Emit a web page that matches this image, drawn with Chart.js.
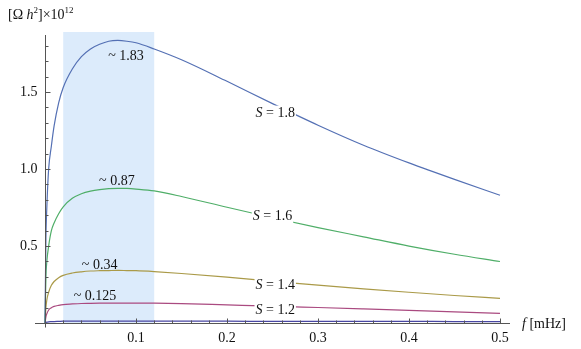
<!DOCTYPE html>
<html>
<head>
<meta charset="utf-8">
<script src="https://cdn.jsdelivr.net/npm/chart.js@4"></script>
<style>
  html, body { margin: 0; padding: 0; background: #ffffff; }
  #wrap { width: 581px; height: 349px; }
</style>
</head>
<body>
<div id="wrap"><canvas id="chart" width="581" height="349"></canvas></div>
<script>
  // frequency grid [mHz]
  var freq = [0, 0.001, 0.002, 0.004, 0.007, 0.01, 0.015, 0.02, 0.03, 0.04, 0.05, 0.06, 0.07,
              0.08, 0.09, 0.1, 0.12, 0.15, 0.2, 0.25, 0.3, 0.35, 0.4, 0.45, 0.5];

  // Omega h^2 x 10^12
  var s18 = [0, 0.55, 0.75, 1.0, 1.15, 1.28, 1.43, 1.53, 1.65, 1.73, 1.78, 1.81, 1.83,
             1.835, 1.83, 1.82, 1.78, 1.71, 1.57, 1.425, 1.285, 1.155, 1.04, 0.933, 0.83];
  var s16 = [0, 0.3, 0.4, 0.5, 0.6, 0.65, 0.71, 0.755, 0.81, 0.84, 0.857, 0.867, 0.873,
             0.875, 0.874, 0.87, 0.858, 0.822, 0.752, 0.684, 0.62, 0.56, 0.50, 0.447, 0.40];
  var s14 = [0, 0.1, 0.15, 0.2, 0.245, 0.27, 0.295, 0.31, 0.325, 0.333, 0.338, 0.34, 0.341,
             0.342, 0.341, 0.34, 0.334, 0.322, 0.298, 0.272, 0.246, 0.222, 0.2, 0.179, 0.16];
  var s12 = [0, 0.04, 0.06, 0.085, 0.1, 0.108, 0.115, 0.12, 0.124, 0.127, 0.128, 0.129, 0.13,
             0.13, 0.13, 0.13, 0.129, 0.126, 0.118, 0.11, 0.101, 0.092, 0.083, 0.073, 0.063];
  var s10 = [0, 0.004, 0.006, 0.008, 0.009, 0.01, 0.011, 0.012, 0.012, 0.012, 0.012, 0.012, 0.012,
             0.012, 0.012, 0.012, 0.012, 0.012, 0.012, 0.011, 0.011, 0.011, 0.011, 0.01, 0.01];

  var seriesNames = ['S = 1.8', 'S = 1.6', 'S = 1.4', 'S = 1.2', 'S = 1.0'];
  var seriesColors = ['#5470b4', '#4fae68', '#aa9a48', '#aa4a80', '#4846a2'];

  // labels: [text, f, value]
  var sLabels = [['1.8', 0.253, 1.36], ['1.6', 0.250, 0.69], ['1.4', 0.253, 0.247], ['1.2', 0.253, 0.084]];
  var peakLabels = [['~ 1.83', 0.089, 1.73], ['~ 0.87', 0.079, 0.92], ['~ 0.34', 0.060, 0.377], ['~ 0.125', 0.055, 0.175]];

  var band = [0.02, 0.12];

  var xMajor = [0.1, 0.2, 0.3, 0.4, 0.5];
  var xTickLabels = ['0.1', '0.2', '0.3', '0.4', '0.5'];
  var yMajor = [0.5, 1.0, 1.5];
  var yTickLabels = ['0.5', '1.0', '1.5'];

  var serif = "'Liberation Serif', 'DejaVu Serif', serif";

  function pts(ys) {
    return freq.map(function (f, i) { return { x: f, y: ys[i] }; });
  }

  var mathPlot = {
    id: 'mathPlot',
    beforeDatasetsDraw: function (chart) {
      var ctx = chart.ctx, xs = chart.scales.x, ys = chart.scales.y, a = chart.chartArea;
      ctx.save();
      ctx.fillStyle = '#dcebfb';
      var x0 = xs.getPixelForValue(band[0]), x1 = xs.getPixelForValue(band[1]);
      ctx.fillRect(x0, a.top, x1 - x0, ys.getPixelForValue(0) - a.top);
      ctx.restore();
    },
    afterDatasetsDraw: function (chart) {
      var ctx = chart.ctx, xs = chart.scales.x, ys = chart.scales.y, a = chart.chartArea;
      var ox = Math.round(xs.getPixelForValue(0)) + 0.5;
      var oy = Math.round(ys.getPixelForValue(0)) + 0.5;
      ctx.save();

      /* ── axes ── */
      ctx.strokeStyle = '#555555';
      ctx.lineWidth = 1;
      ctx.beginPath();
      ctx.moveTo(a.left, oy); ctx.lineTo(a.right, oy);
      ctx.moveTo(ox, a.top + 3); ctx.lineTo(ox, oy + 4);
      ctx.stroke();

      /* ── ticks ── */
      ctx.beginPath();
      for (var i = 1; i <= 25; i++) {
        var px = Math.round(xs.getPixelForValue(i * 0.02)) + 0.5;
        var len = (i % 5 === 0) ? 5 : 3;
        ctx.moveTo(px, oy); ctx.lineTo(px, oy - len);
      }
      for (var j = 1; j <= 18; j++) {
        var py = Math.round(ys.getPixelForValue(j * 0.1)) + 0.5;
        var l2 = (j % 5 === 0) ? 5 : 3;
        ctx.moveTo(ox, py); ctx.lineTo(ox + l2, py);
      }
      ctx.stroke();

      /* ── tick labels ── */
      ctx.fillStyle = '#111111';
      ctx.font = '14px ' + serif;
      ctx.textAlign = 'center';
      ctx.textBaseline = 'middle';
      xMajor.forEach(function (v, k) {
        ctx.fillText(xTickLabels[k], xs.getPixelForValue(v), oy + 15);
      });
      ctx.textAlign = 'right';
      yMajor.forEach(function (v, k) {
        ctx.fillText(yTickLabels[k], ox - 8, ys.getPixelForValue(v));
      });

      /* ── axis titles ── */
      ctx.textAlign = 'left';
      ctx.textBaseline = 'alphabetic';
      var tx = 8, ty = 19;
      function put(txt, font, dy) {
        ctx.font = font;
        ctx.fillText(txt, tx, ty + (dy || 0));
        tx += ctx.measureText(txt).width;
      }
      put('[\u03A9 ', '14px ' + serif);
      put('h', 'italic 14px ' + serif);
      put('2', '9px ' + serif, -6);
      put(']\u00D710', '14px ' + serif);
      put('12', '9px ' + serif, -6);

      tx = 522; ty = oy + 4;
      put('f', 'italic 14px ' + serif);
      put(' [mHz]', '14px ' + serif);

      /* ── peak labels ── */
      ctx.font = '14px ' + serif;
      ctx.textAlign = 'center';
      ctx.textBaseline = 'middle';
      peakLabels.forEach(function (p) {
        ctx.fillText(p[0], xs.getPixelForValue(p[1]), ys.getPixelForValue(p[2]));
      });

      /* ── series labels with white background ── */
      sLabels.forEach(function (p) {
        ctx.font = 'italic 14px ' + serif;
        var w1 = ctx.measureText('S').width;
        ctx.font = '14px ' + serif;
        var rest = ' = ' + p[0];
        var w2 = ctx.measureText(rest).width;
        var cx = xs.getPixelForValue(p[1]), cy = ys.getPixelForValue(p[2]);
        var left = cx - (w1 + w2) / 2;
        ctx.fillStyle = '#ffffff';
        ctx.fillRect(left - 1, cy - 8, w1 + w2 + 2, 16);
        ctx.fillStyle = '#111111';
        ctx.textAlign = 'left';
        ctx.font = 'italic 14px ' + serif;
        ctx.fillText('S', left, cy);
        ctx.font = '14px ' + serif;
        ctx.fillText(rest, left + w1, cy);
      });
      ctx.restore();
    }
  };

  var series = [s18, s16, s14, s12, s10];

  new Chart(document.getElementById('chart'), {
    type: 'line',
    data: {
      datasets: series.map(function (ys, i) {
        return {
          label: seriesNames[i],
          data: pts(ys),
          borderColor: seriesColors[i],
          borderWidth: 1.2,
          pointRadius: 0,
          fill: false,
          cubicInterpolationMode: 'monotone'
        };
      })
    },
    options: {
      responsive: false,
      animation: false,
      layout: { padding: { left: 35, right: 71, top: 32, bottom: 19 } },
      plugins: { legend: { display: false }, tooltip: { enabled: false } },
      scales: {
        x: { type: 'linear', min: -0.011, max: 0.511, display: false },
        y: { type: 'linear', min: -0.045, max: 1.89, display: false }
      }
    },
    plugins: [mathPlot]
  });
</script>
</body>
</html>
